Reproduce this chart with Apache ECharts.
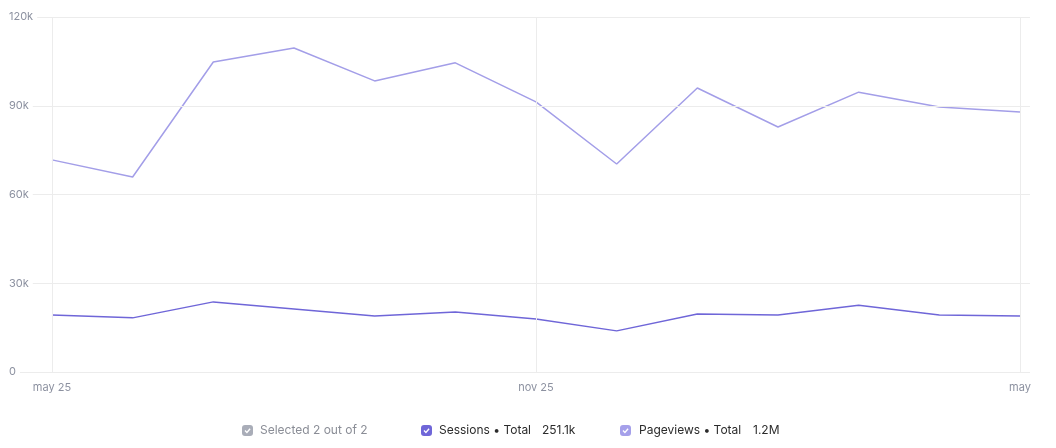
<!DOCTYPE html>
<html>
<head>
<meta charset="utf-8">
<script src="https://cdn.jsdelivr.net/npm/echarts@6/dist/echarts.min.js"></script>
<style>
  html, body { margin: 0; padding: 0; background: #fff; }
  #chart { width: 1056px; height: 448px; }
</style>
</head>
<body>
<div id="chart"></div>
<script>
// months from may 25 to may 26, only some get a label
var months = ['may 25', 'jun', 'jul', 'aug', 'sep', 'oct', 'nov 25', 'dec', 'jan', 'feb', 'mar', 'apr', 'may'];
var labelIdx = [0, 6, 12];
var sessions = [19300, 18300, 23700, 21300, 18900, 20300, 17900, 13900, 19600, 19300, 22600, 19300, 18900];
var pageviews = [71700, 65900, 104800, 109500, 98400, 104500, 91300, 70300, 96000, 82800, 94600, 89600, 87900];

var C_SESS = '#6f66d8';
var C_PV = '#a39ee8';
var FONT = 'Inter, "Open Sans", sans-serif';

function pts(arr) {
  return arr.map(function (v, i) { return [i, v]; });
}

function fmtK(v) {
  return v === 0 ? '0' : (v / 1000) + 'k';
}

// legend row drawn as checkbox + text
function checkbox(x, color) {
  return {
    type: 'group', left: x, top: 425,
    children: [
      { type: 'rect', shape: { x: 0, y: 0, width: 11, height: 11, r: 3 }, style: { fill: color } },
      { type: 'polyline', shape: { points: [[3, 5.6], [4.9, 7.4], [8.1, 3.8]] },
        style: { stroke: '#fff', lineWidth: 1.4, fill: null } }
    ]
  };
}
function label(x, text, color) {
  return { type: 'text', left: x, top: 424,
    style: { text: text, fill: color, font: '12px ' + FONT } };
}

var chart = echarts.init(document.getElementById('chart'));
chart.setOption({
  animation: false,
  grid: { left: 8, right: 26, top: 17, bottom: 76 },
  xAxis: {
    type: 'value',
    min: -0.545,
    max: 12.124,
    axisLine: { show: false },
    axisTick: { show: false },
    splitLine: { show: false },
    axisLabel: {
      customValues: labelIdx,
      color: '#8c91a0',
      fontSize: 11,
      fontFamily: FONT,
      margin: 10,
      formatter: function (v) { return months[Math.round(v)]; }
    }
  },
  yAxis: {
    type: 'value',
    min: 0,
    max: 120000,
    interval: 30000,
    z: 5,
    axisLine: { show: false },
    axisTick: { show: false },
    splitLine: { lineStyle: { color: '#ececec', width: 1 } },
    axisLabel: {
      inside: true,
      margin: 0,
      color: '#8c91a0',
      fontSize: 11,
      fontFamily: FONT,
      backgroundColor: '#fff',
      padding: [2, 4, 2, 1],
      formatter: fmtK
    }
  },
  series: [
    {
      name: 'Pageviews',
      type: 'line',
      data: pts(pageviews),
      showSymbol: false,
      lineStyle: { color: C_PV, width: 1.5 },
      itemStyle: { color: C_PV },
      markLine: {
        silent: true,
        symbol: 'none',
        label: { show: false },
        lineStyle: { color: '#ececec', width: 1, type: 'solid' },
        data: labelIdx.map(function (i) { return { xAxis: i }; })
      }
    },
    {
      name: 'Sessions',
      type: 'line',
      data: pts(sessions),
      showSymbol: false,
      lineStyle: { color: C_SESS, width: 1.5 },
      itemStyle: { color: C_SESS }
    }
  ],
  graphic: [
    checkbox(242, '#a9adb8'),
    label(260, 'Selected 2 out of 2', '#8a8d96'),
    checkbox(421, C_SESS),
    label(439, 'Sessions \u2022 Total', '#2b2b2b'),
    label(542, '251.1k', '#2b2b2b'),
    checkbox(620, '#a5a0ea'),
    label(639, 'Pageviews \u2022 Total', '#2b2b2b'),
    label(753, '1.2M', '#2b2b2b')
  ]
});
</script>
</body>
</html>
